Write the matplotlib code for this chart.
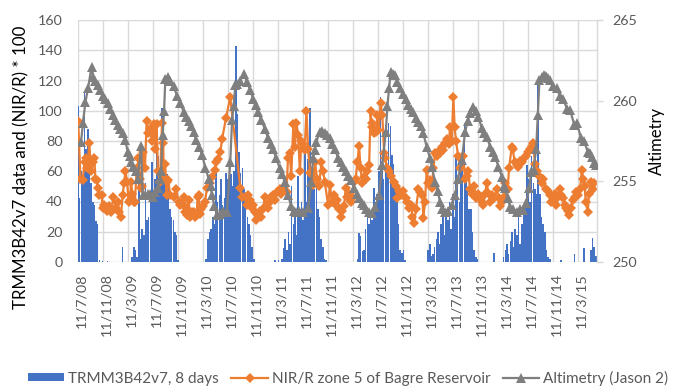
import numpy as np
import pandas as pd
import matplotlib
matplotlib.use("Agg")
import matplotlib.pyplot as plt
from matplotlib.lines import Line2D
from matplotlib.patches import Patch
import matplotlib.transforms as mtransforms

plt.rcParams['font.family'] = ['Lato', 'DejaVu Sans']

RECORD_START = pd.Timestamp('2008-07-11')
RECORD_END = pd.Timestamp('2015-06-11')

# TRMM 3B42 v7 rainfall, consecutive 8-day composites from RECORD_START
rain_8day = [
    103, 42, 60, 52, 113, 75, 88, 58, 52, 40, 38, 27, 25,
    1, 0, 0.5, 0, 0, 0.5, 0, 0, 0, 0, 0, 0, 0, 0, 10, 0, 0, 0, 0, 0,
    3, 10, 8, 3, 52, 15, 22, 18, 52, 28, 30, 40, 66, 45, 55, 88, 70, 50, 102, 60,
    55, 58, 50, 35, 30, 28, 20, 18,
    1, 0, 0, 0, 0, 0, 0, 0, 0, 0, 0, 0, 0, 0, 0, 0, 0, 2,
    15, 20, 22, 30, 25, 61, 40, 44, 55, 38, 42, 59, 55, 52, 58, 50, 60, 143, 98, 73,
    59, 62, 48, 40, 30, 25, 18, 10, 2,
    0, 0, 0, 0, 0, 0, 0, 0, 0, 0, 0, 0, 1, 0, 1, 0,
    2, 9, 15, 8, 20, 12, 50, 25, 30, 18, 57, 35, 40, 28, 75, 40, 68, 102, 55, 62,
    48, 60, 35, 30, 15, 10, 2,
    1, 0, 0, 0, 0, 0, 0, 0, 0, 0, 0, 0, 0, 0, 0, 0, 0, 0, 0,
    2, 19, 17, 7, 8, 22, 36, 25, 30, 28, 49, 40, 45, 60, 109, 64, 55, 70, 62, 92,
    90, 71, 65, 52, 40, 25, 8, 6, 8,
    1, 0, 0, 0, 0, 0, 0, 0, 0, 0, 0, 0, 0, 0,
    8, 12, 4, 5, 10, 15, 20, 12, 25, 38, 18, 35, 28, 40, 22, 45, 30, 69, 50, 40,
    60, 69, 92, 55, 48, 35, 35, 20, 8, 3, 2, 0,
    0, 0, 0, 0, 0, 0, 0, 0, 6, 0, 0, 0, 0, 0,
    3, 8, 12, 5, 14, 20, 10, 22, 18, 31, 12, 25, 35, 40, 64, 55, 40, 70, 52, 48,
    45, 120, 45, 30, 25, 20, 8, 3, 2,
    0, 0, 0, 0, 0, 0, 1, 0, 0, 0, 0, 0, 0, 0, 5, 0, 0, 0, 0, 0, 9, 0, 0, 0, 8, 16,
    10, 4,
]

# NIR/R ratio (x100), zone 5 of Bagre Reservoir: (days since RECORD_START, value)
nir_obs = [
    (1, 93), (12, 55), (23, 54), (32, 66), (39, 69), (46, 62), (55, 79), (61, 64),
    (63, 60), (71, 66), (79, 69), (85, 55), (91, 54), (97, 49), (104, 44), (115, 44),
    (120, 36), (127, 38), (140, 34), (145, 36), (153, 37), (161, 33), (172, 43),
    (183, 36), (193, 40), (200, 33), (209, 30), (217, 44), (224, 52), (231, 60),
    (239, 53), (246, 40), (253, 41), (258, 53), (265, 45), (274, 40), (277, 40),
    (286, 62), (291, 58), (294, 69), (302, 55), (307, 49), (310, 50), (318, 73),
    (326, 62), (334, 93), (342, 85), (350, 88), (355, 85), (362, 80), (367, 87),
    (371, 91), (377, 75), (383, 91), (389, 60), (399, 53), (409, 92), (415, 79),
    (417, 56), (424, 65), (432, 44), (433, 53), (440, 54), (448, 44), (466, 43),
    (477, 48), (490, 40), (497, 38), (506, 39), (514, 43), (521, 33), (526, 36),
    (531, 31), (538, 41), (547, 30), (555, 33), (563, 33), (570, 30), (578, 31),
    (582, 43), (587, 44), (595, 32), (601, 35), (610, 37), (618, 40), (628, 49),
    (643, 52), (652, 56), (667, 61), (674, 66), (682, 68), (693, 73), (701, 81),
    (720, 95), (741, 109), (790, 49), (798, 43), (814, 43), (823, 38), (828, 44),
    (837, 41), (845, 36), (852, 38), (860, 33), (867, 28), (876, 31), (884, 34),
    (891, 30), (901, 35), (909, 43), (915, 37), (925, 36), (935, 40), (941, 43),
    (949, 44), (959, 41), (969, 46), (982, 48), (988, 45), (998, 48), (1008, 50),
    (1015, 46), (1022, 69), (1030, 72), (1038, 57), (1048, 91), (1055, 76),
    (1063, 92), (1071, 84), (1080, 60), (1087, 80), (1095, 78), (1103, 74),
    (1112, 100), (1120, 75), (1129, 59), (1137, 60), (1145, 51), (1154, 66),
    (1163, 55), (1173, 50), (1185, 66), (1193, 60), (1201, 53), (1217, 38),
    (1227, 51), (1234, 40), (1246, 44), (1254, 38), (1262, 41), (1271, 35),
    (1279, 30), (1285, 34), (1295, 37), (1303, 49), (1309, 43), (1319, 45),
    (1327, 40), (1335, 42), (1344, 53), (1351, 55), (1360, 66), (1368, 77),
    (1375, 62), (1384, 52), (1392, 56), (1400, 55), (1408, 60), (1417, 64),
    (1424, 100), (1430, 89), (1433, 92), (1441, 85), (1449, 86), (1457, 97),
    (1462, 87), (1473, 105), (1481, 97), (1490, 72), (1494, 69), (1506, 62),
    (1514, 60), (1524, 57), (1538, 53), (1548, 50), (1554, 42), (1563, 47),
    (1573, 44), (1582, 47), (1595, 42), (1602, 40), (1611, 36), (1621, 38),
    (1628, 30), (1636, 26), (1645, 35), (1657, 48), (1665, 46), (1676, 44),
    (1681, 29), (1689, 40), (1697, 61), (1704, 52), (1714, 54), (1721, 49),
    (1730, 62), (1738, 72), (1745, 70), (1754, 73), (1762, 72), (1770, 76),
    (1777, 74), (1787, 79), (1795, 81), (1804, 78), (1811, 89), (1819, 80),
    (1827, 109), (1833, 89), (1840, 80), (1850, 70), (1860, 62), (1876, 70),
    (1884, 55), (1891, 57), (1900, 60), (1908, 48), (1918, 45), (1928, 50),
    (1938, 42), (1947, 45), (1957, 43), (1964, 40), (1973, 38), (1981, 45),
    (1990, 52), (1998, 45), (2006, 40), (2015, 44), (2025, 42), (2038, 48),
    (2047, 42), (2054, 37), (2062, 40), (2071, 43), (2078, 52), (2091, 48),
    (2098, 62), (2111, 76), (2116, 75), (2125, 66), (2135, 64), (2140, 63),
    (2151, 67), (2161, 66), (2171, 69), (2181, 70), (2189, 73), (2200, 75),
    (2209, 77), (2214, 79), (2225, 65), (2234, 60), (2244, 57), (2256, 52),
    (2265, 55), (2278, 48), (2287, 47), (2295, 44), (2303, 40), (2311, 42),
    (2320, 45), (2327, 38), (2337, 43), (2346, 48), (2351, 44), (2359, 42),
    (2368, 38), (2376, 36), (2383, 34), (2392, 31), (2400, 36), (2409, 41),
    (2417, 43), (2424, 46), (2434, 44), (2444, 48), (2452, 61), (2458, 55),
    (2466, 50), (2471, 40), (2481, 33), (2487, 45), (2497, 53), (2505, 48),
    (2513, 52),
]

# Jason-2 altimetry over the reservoir: (days since RECORD_START, level in m)
alt_obs = [
    (15, 257.45), (24, 258.63), (36, 259.90), (49, 260.78), (66, 262.09),
    (75, 261.44), (85, 261.25), (97, 260.97), (107, 260.69), (120, 260.31),
    (131, 260.13), (145, 259.84), (156, 259.47), (169, 259.09), (180, 258.81),
    (193, 258.49), (204, 258.25), (218, 257.97), (229, 257.59), (242, 256.84),
    (251, 256.56), (258, 256.19), (270, 255.91), (282, 255.63), (291, 255.16),
    (307, 257.22), (315, 254.13), (326, 254.13), (339, 254.22), (350, 254.22),
    (364, 254.03), (375, 254.31), (388, 254.59), (399, 255.16), (404, 255.63),
    (412, 257.88), (419, 259.38), (425, 261.34),
    (436, 261.44), (449, 261.25), (465, 260.88), (482, 260.31), (498, 259.84),
    (515, 259.28), (526, 259.00), (539, 258.72), (550, 258.44), (563, 258.06),
    (574, 257.59), (588, 257.13), (604, 256.66), (620, 255.81), (636, 255.16),
    (645, 254.69), (652, 254.13), (664, 253.47), (677, 252.91), (691, 253.00),
    (708, 253.19), (725, 253.09), (741, 256.19), (750, 258.81), (757, 259.66),
    (766, 260.97), (776, 261.06), (790, 261.25), (807, 261.63), (823, 261.16),
    (837, 260.69), (852, 260.13), (864, 259.75), (876, 259.28), (892, 258.81),
    (909, 258.25), (925, 257.69), (937, 257.31), (949, 257.03), (965, 256.42),
    (982, 255.81), (993, 255.44), (1006, 254.97), (1022, 254.13), (1038, 253.47),
    (1051, 253.19), (1063, 253.09), (1078, 253.19), (1095, 253.09), (1120, 253.33),
    (1136, 254.97), (1144, 256.42), (1152, 256.94), (1160, 257.45), (1177, 258.06),
    (1188, 258.11), (1201, 257.97), (1212, 257.88), (1225, 257.69), (1236, 257.31),
    (1250, 257.03), (1266, 256.42), (1279, 256.19), (1290, 255.91), (1303, 255.63),
    (1314, 255.34), (1328, 255.06), (1344, 254.59), (1356, 254.22), (1368, 253.94),
    (1380, 253.66), (1392, 253.56), (1404, 253.28), (1417, 253.09), (1431, 253.05),
    (1446, 253.38), (1465, 254.13), (1481, 256.00), (1498, 258.06), (1506, 259.66),
    (1514, 260.78), (1522, 261.77), (1533, 261.67), (1543, 261.59), (1555, 261.16),
    (1567, 260.78), (1582, 260.41), (1595, 260.13), (1606, 259.75), (1620, 259.47),
    (1631, 259.28), (1644, 258.91), (1655, 258.69), (1668, 258.44), (1681, 257.97),
    (1697, 257.13), (1714, 256.42), (1722, 255.91), (1738, 254.97), (1750, 254.41),
    (1762, 253.75), (1774, 253.28), (1787, 253.09), (1801, 253.19), (1819, 253.53),
    (1835, 254.13), (1850, 255.16), (1868, 256.32), (1884, 258.06), (1896, 258.72),
    (1908, 259.22), (1924, 259.63), (1937, 259.38), (1949, 259.00), (1965, 258.29),
    (1976, 257.97), (1990, 257.76), (2006, 257.14), (2018, 256.84), (2030, 256.53),
    (2046, 255.91), (2063, 255.29), (2071, 254.69), (2079, 254.57), (2091, 253.94),
    (2103, 253.43), (2118, 253.28), (2136, 253.12), (2152, 253.28), (2168, 253.23),
    (2181, 253.66), (2197, 254.57), (2205, 255.60), (2217, 255.72), (2230, 257.03),
    (2238, 259.09), (2246, 261.28), (2256, 261.48), (2266, 261.59), (2278, 261.53),
    (2288, 261.39), (2298, 261.28), (2312, 260.92), (2330, 260.76), (2346, 260.27),
    (2362, 260.13), (2380, 259.47), (2395, 259.42), (2416, 258.49), (2428, 258.60),
    (2449, 257.67), (2463, 257.50), (2481, 256.83), (2492, 256.75), (2502, 256.53),
    (2513, 256.11), (2522, 256.00),
]

left_ticks = [0, 20, 40, 60, 80, 100, 120, 140, 160]
right_ticks = [250, 255, 260, 265]
tick_dates = pd.date_range('2008-07-01', '2015-03-01', freq='4MS') + pd.Timedelta(days=10)
tick_labels = [f"{d.day}/{d.month}/{d:%y}" for d in tick_dates]

BLUE = '#4472C4'
ORANGE = '#ED7D31'
GRAY = '#7F7F7F'
GRID = '#D9D9D9'
TEXT = '#595959'

rain_dates = RECORD_START + pd.to_timedelta(np.arange(len(rain_8day)) * 8, unit='D')
nir_days, nir_vals = zip(*nir_obs)
nir_dates = RECORD_START + pd.to_timedelta(list(nir_days), unit='D')
alt_days, alt_vals = zip(*alt_obs)
alt_dates = RECORD_START + pd.to_timedelta(list(alt_days), unit='D')

fig = plt.figure(figsize=(6.75, 3.89), dpi=100)
ax = fig.add_axes([78 / 675, 1 - 262 / 389, (597 - 78) / 675, (262 - 20) / 389])

ax.bar(rain_dates, rain_8day, width=7.5, color=BLUE, linewidth=0, zorder=2)
ax.plot(nir_dates, nir_vals, color=ORANGE, lw=1.6, marker='D', ms=5,
        markeredgewidth=0, zorder=3)

ax.set_xlim(RECORD_START, RECORD_END)
ax.set_ylim(0, 160)
ax.set_yticks(left_ticks)
ax.set_xticks(tick_dates)
ax.set_xticklabels(tick_labels, rotation=90)
ax.grid(True, color=GRID, lw=1.0, zorder=0)
ax.set_axisbelow(True)
for s in ax.spines.values():
    s.set_visible(False)
ax.tick_params(axis='both', length=0, colors=TEXT, labelsize=10.3)
ax.tick_params(axis='y', pad=11)
ax.tick_params(axis='x', pad=8)
shift = mtransforms.ScaledTranslation(3 / 100, 0, fig.dpi_scale_trans)
for lbl in ax.get_xticklabels():
    lbl.set_transform(lbl.get_transform() + shift)

ax2 = ax.twinx()
ax2.plot(alt_dates, alt_vals, color=GRAY, lw=1.6, marker='^', ms=6.5,
         markeredgewidth=0, zorder=4)
ax2.set_ylim(250, 265)
ax2.set_yticks(right_ticks)
for name, s in ax2.spines.items():
    s.set_visible(name == 'right')
ax2.spines['right'].set_color(GRID)
ax2.spines['right'].set_linewidth(1.0)
ax2.tick_params(axis='y', length=4, width=1.0, color=GRID, labelcolor=TEXT,
                labelsize=10.3, pad=7)

fig.text(21.5 / 675, 1 - 167 / 389, 'TRMM3B42v7 data and (NIR/R) * 100',
         rotation=90, ha='center', va='center', fontsize=12.2, color='#000000')
fig.text(656.5 / 675, 1 - 141 / 389, 'Altimetry', rotation=90,
         ha='center', va='center', fontsize=12, color='#000000')

handles = [
    Patch(facecolor=BLUE, edgecolor='none'),
    Line2D([], [], color=ORANGE, lw=1.6, marker='D', ms=5, markeredgewidth=0),
    Line2D([], [], color=GRAY, lw=1.6, marker='^', ms=6.5, markeredgewidth=0),
]
labels = ['TRMM3B42v7, 8 days', 'NIR/R zone 5 of Bagre Reservoir', 'Altimetry (Jason 2)']
leg = fig.legend(handles, labels, loc='center', bbox_to_anchor=(348 / 675, 1 - 378 / 389),
                 ncol=3, frameon=False, fontsize=11, handlelength=2.4,
                 handleheight=0.5, handletextpad=0.25, columnspacing=0.8,
                 borderaxespad=0)
for t in leg.get_texts():
    t.set_color(TEXT)

fig.savefig('out.png', dpi=100)
